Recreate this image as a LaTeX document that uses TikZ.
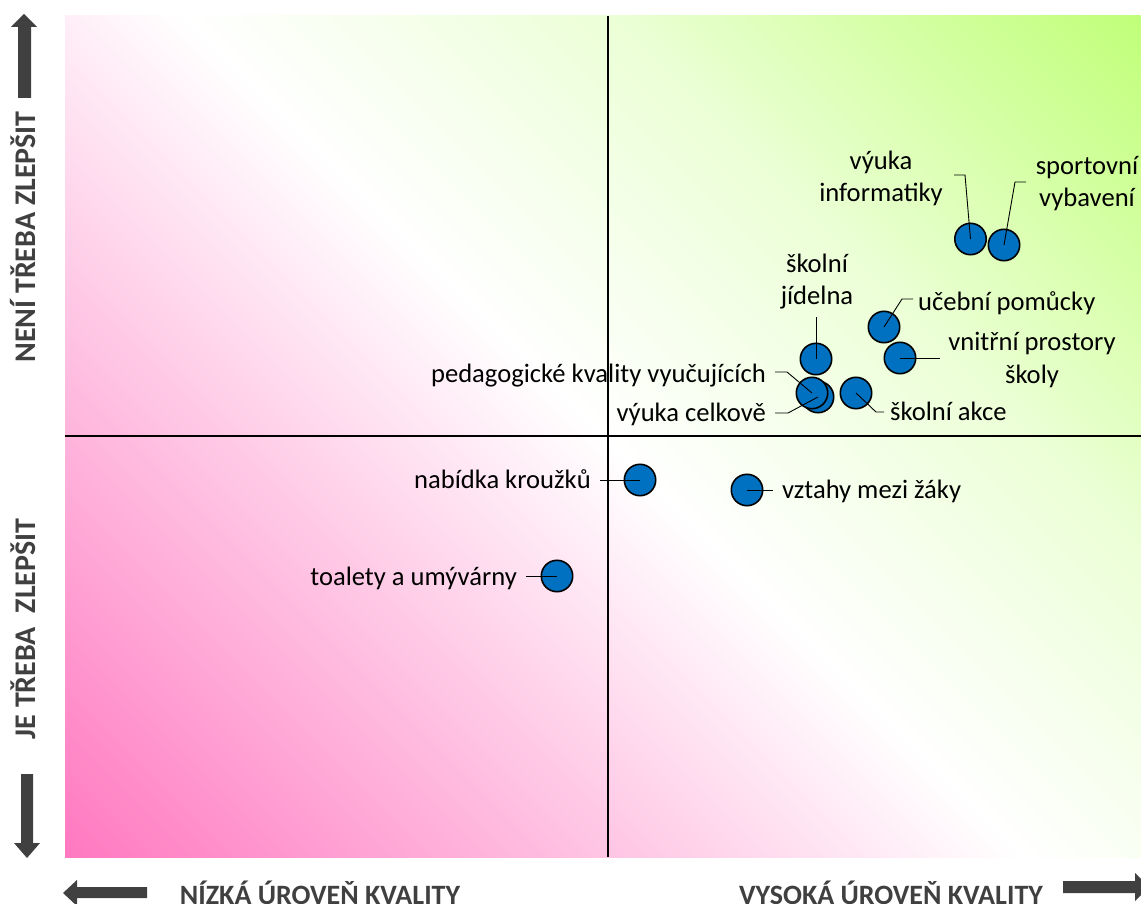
\documentclass[tikz,border=0pt]{standalone}
\usepackage{fontspec}
\setmainfont{Carlito}
\definecolor{pk}{RGB}{255,120,192}
\definecolor{gr}{RGB}{192,255,120}
\definecolor{grl}{RGB}{236,255,215}
\definecolor{ptblue}{RGB}{0,112,192}
\definecolor{axgray}{RGB}{64,64,64}
\pgfdeclareverticalshading{bgshade}{100bp}{color(0bp)=(pk); color(25bp)=(pk); color(50bp)=(white); color(61bp)=(grl); color(75bp)=(gr); color(100bp)=(gr)}
\begin{document}
\begin{tikzpicture}[x=1pt,y=-1pt,
  pt/.style={circle, draw=black, line width=1.6pt, fill=ptblue, minimum size=31.4pt, inner sep=0pt},
  lead/.style={draw=black, line width=0.9pt},
  lbl/.style={font=\fontsize{26.6}{32.5}\selectfont, inner sep=0pt, text=black},
  axh/.style={font=\fontsize{28}{33}\selectfont\bfseries, text=axgray, inner sep=0pt},
  axv/.style={font=\fontsize{30}{36}\selectfont\bfseries, text=axgray, inner sep=0pt, rotate=90, anchor=base},
  blk/.style={fill=axgray, draw=none},
  axline/.style={draw=black, line width=2.2pt}]
\useasboundingbox (0,0) rectangle (1141,904);
\fill[white] (0,0) rectangle (1141,904);
\begin{scope}
\clip (65,16) rectangle (1141,857);
\shade[shading=bgshade, transform canvas={shift={(603,436.5)}, rotate=-45}] (-678,-678) rectangle (678,678);
\end{scope}
% axes
\coordinate (vt) at (608,16); \coordinate (vb) at (608,857);
\coordinate (hl) at (65,436); \coordinate (hr) at (1141,436);
\draw[axline] (vt) -- (vb);
\draw[axline] (hl) -- (hr);
% points
\node[pt] (inf) at (970.5,239) {};
\node[pt] (spo) at (1004,245) {};
\node[pt] (jid) at (816,359) {};
\node[pt] (pom) at (884,327) {};
\node[pt] (pro) at (900,358) {};
\node[pt] (cel) at (818,397) {};
\node[pt] (ped) at (812,393) {};
\node[pt] (akc) at (856,393) {};
\node[pt] (kro) at (640,480) {};
\node[pt] (vzt) at (747,490) {};
\node[pt] (toa) at (557,576) {};
% leaders
\coordinate (infa) at (954,175); \coordinate (infb) at (965,175);
\draw[lead] (infa) -- (infb) -- (inf.center);
\coordinate (spoa) at (1026,182); \coordinate (spob) at (1015,182);
\draw[lead] (spoa) -- (spob) -- (spo.center);
\coordinate (jida) at (816,317);
\draw[lead] (jida) -- (jid.center);
\coordinate (poma) at (913,299); \coordinate (pomb) at (902,299);
\draw[lead] (poma) -- (pomb) -- (pom.center);
\coordinate (proa) at (940,358);
\draw[lead] (proa) -- (pro.center);
\coordinate (peda) at (775,372); \coordinate (pedb) at (787,372);
\draw[lead] (peda) -- (pedb) -- (ped.center);
\coordinate (cela) at (775,413); \coordinate (celb) at (788,413);
\draw[lead] (cela) -- (celb) -- (cel.center);
\coordinate (akca) at (876,412); \coordinate (akcb) at (884,412);
\draw[lead] (akc.center) -- (akca) -- (akcb);
\coordinate (kroa) at (600,480);
\draw[lead] (kroa) -- (kro.center);
\coordinate (vzta) at (773,490);
\draw[lead] (vzt.center) -- (vzta);
\coordinate (toaa) at (526,576);
\draw[lead] (toaa) -- (toa.center);
% labels
\node[lbl, align=center, anchor=base] (infl) at (881,202) {výuka\\informatiky};
\node[lbl, align=center, anchor=base] (spol) at (1087,207) {sportovní\\vybavení};
\node[lbl, align=center, anchor=base] (jidl) at (817,305) {školní\\jídelna};
\node[lbl, anchor=base west] (poml) at (918,310) {učební pomůcky};
\node[lbl, align=center, anchor=base] (prol) at (1032,383) {vnitřní prostory\\školy};
\node[lbl, anchor=base east] (pedl) at (766,382) {pedagogické kvality vyučujících};
\node[lbl, anchor=base east] (cell) at (766,421) {výuka celkově};
\node[lbl, anchor=base west] (akcl) at (890,420) {školní akce};
\node[lbl, anchor=base east] (krol) at (591,488) {nabídka kroužků};
\node[lbl, anchor=base west] (vztl) at (782,498) {vztahy mezi žáky};
\node[lbl, anchor=base east] (toal) at (517,585) {toalety a umývárny};
% axis labels
\node[axv] (nen) at (35,237) {NENÍ TŘEBA ZLEPŠIT};
\node[axv] (jet) at (35,629) {JE TŘEBA\ \ ZLEPŠIT};
\node[axh, anchor=base] (niz) at (320,904) {NÍZKÁ ÚROVEŇ KVALITY};
\node[axh, anchor=base] (vys) at (891,904) {VYSOKÁ ÚROVEŇ KVALITY};
% block arrows
\fill[blk] (18,98) -- (18,27) -- (11,27) -- (24,14) -- (37,27) -- (31,27) -- (31,98) -- cycle;
\fill[blk] (21,774) -- (33,774) -- (33,843) -- (40,843) -- (27,858) -- (14,843) -- (21,843) -- cycle;
\fill[blk] (147,887) -- (77,887) -- (77,880) -- (63,893) -- (77,906) -- (77,898) -- (147,898) -- cycle;
\fill[blk] (1063,881) -- (1135,881) -- (1135,873) -- (1149,887) -- (1135,901) -- (1135,893) -- (1063,893) -- cycle;
\end{tikzpicture}
\end{document}
